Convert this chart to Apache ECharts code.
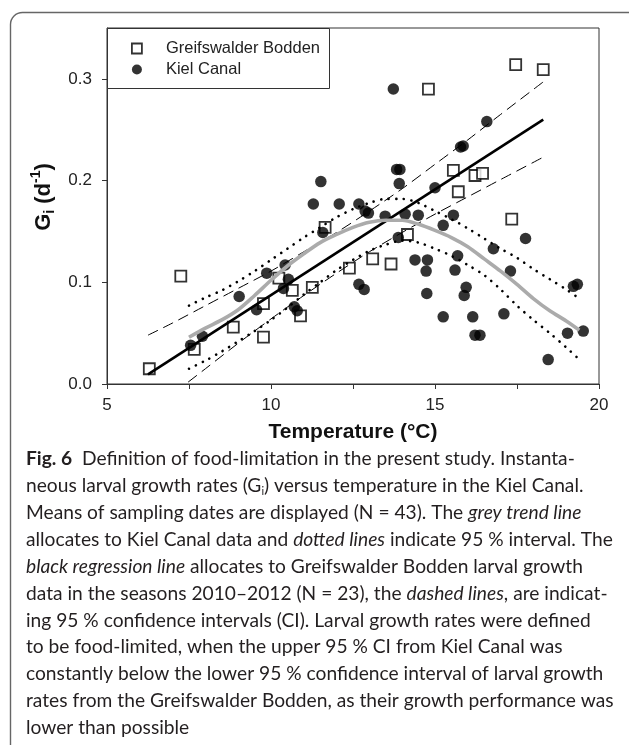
<!DOCTYPE html>
<html>
<head>
<meta charset="utf-8">
<script src="https://cdn.jsdelivr.net/npm/echarts@6/dist/echarts.min.js"></script>
<style>
html,body{margin:0;padding:0;background:#fff;}
#chart{width:629px;height:745px;}
</style>
</head>
<body>
<div id="chart"></div>
<script>
// ---- Data ----
const xTickValues = [5, 10, 15, 20];
const yTickValues = [0, 0.1, 0.2, 0.3];

// Greifswalder Bodden (open squares)
const gbTemp   = [6.29, 7.25, 7.66, 8.85, 9.77, 9.77, 10.24, 10.65, 10.90, 11.26, 11.65, 12.39, 13.10, 13.66, 14.16, 14.80, 15.56, 15.71, 16.22, 16.45, 17.34, 17.46, 18.30];
const gbGrowth = [0.015, 0.106, 0.034, 0.056, 0.079, 0.046, 0.104, 0.092, 0.067, 0.095, 0.154, 0.114, 0.123, 0.118, 0.147, 0.290, 0.210, 0.189, 0.205, 0.207, 0.162, 0.314, 0.309];

// Kiel Canal (filled circles)
const kcTemp   = [7.55, 7.91, 9.03, 9.56, 9.87, 10.43, 10.53, 10.38, 10.71, 10.80, 11.52, 11.29, 11.58, 12.08, 12.68, 12.87, 12.97, 12.68, 12.84, 13.48, 13.73, 13.83, 13.93, 13.91, 13.88, 14.09, 14.49, 14.39, 14.77, 14.73, 14.75, 15.00, 15.25, 15.25, 15.56, 15.61, 15.69, 15.78, 15.86, 15.95, 15.89, 16.15, 16.22, 16.37, 16.58, 16.78, 17.10, 17.30, 17.76, 18.45, 19.04, 19.22, 19.34, 19.52];
const kcGrowth = [0.038, 0.047, 0.086, 0.073, 0.109, 0.117, 0.103, 0.094, 0.076, 0.072, 0.199, 0.177, 0.149, 0.177, 0.177, 0.170, 0.168, 0.098, 0.093, 0.165, 0.290, 0.211, 0.211, 0.197, 0.144, 0.167, 0.166, 0.122, 0.122, 0.111, 0.089, 0.193, 0.156, 0.066, 0.166, 0.112, 0.126, 0.233, 0.234, 0.095, 0.087, 0.066, 0.048, 0.048, 0.258, 0.133, 0.069, 0.111, 0.143, 0.024, 0.050, 0.096, 0.098, 0.052];

// Greifswalder Bodden regression line and 95 % CI (dashed)
const gbRegTemp   = [6.25, 18.3];
const gbRegGrowth = [0.0094, 0.260];
const gbCiTemp    = [6.25, 7, 8, 9, 10, 11, 12, 13, 14, 15, 16, 17, 18.3];
const gbCiUpper   = [0.048, 0.060, 0.077, 0.094, 0.111, 0.130, 0.149, 0.170, 0.192, 0.216, 0.240, 0.265, 0.297];
const gbCiLower   = [-0.029, -0.010, 0.015, 0.040, 0.064, 0.087, 0.109, 0.130, 0.149, 0.167, 0.184, 0.201, 0.223];

// Kiel Canal grey trend line and 95 % interval (dotted)
const kcTrendTemp = [7.5, 8.0, 8.5, 9.0, 9.5, 10.0, 10.5, 11.0, 11.5, 12.0, 12.5, 13.0, 13.5, 14.0, 14.5, 15.0, 15.5, 16.0, 16.5, 17.0, 17.5, 18.0, 18.5, 19.0, 19.4];
const kcTrend     = [0.046, 0.055, 0.063, 0.073, 0.087, 0.102, 0.116, 0.128, 0.139, 0.147, 0.154, 0.159, 0.161, 0.161, 0.157, 0.151, 0.144, 0.135, 0.123, 0.111, 0.098, 0.084, 0.072, 0.062, 0.053];
const kcUpper     = [0.077, 0.085, 0.092, 0.101, 0.111, 0.122, 0.133, 0.144, 0.154, 0.164, 0.172, 0.178, 0.182, 0.182, 0.178, 0.170, 0.162, 0.153, 0.143, 0.133, 0.124, 0.113, 0.103, 0.093, 0.084];
const kcLower     = [0.015, 0.023, 0.032, 0.042, 0.052, 0.063, 0.075, 0.088, 0.100, 0.112, 0.122, 0.131, 0.137, 0.141, 0.139, 0.133, 0.126, 0.117, 0.107, 0.093, 0.077, 0.063, 0.050, 0.036, 0.024];

const captionLines = [
  '{b|Fig. 6}  Definition of food-limitation in the present study. Instanta-',
  'neous larval growth rates (G{s|i}) versus temperature in the Kiel Canal.',
  'Means of sampling dates are displayed (N = 43). The {i|grey trend line}',
  'allocates to Kiel Canal data and {i|dotted lines} indicate 95 % interval. The',
  '{i|black regression line} allocates to Greifswalder Bodden larval growth',
  'data in the seasons 2010\u20132012 (N = 23), the {i|dashed lines}, are indicat-',
  'ing 95 % confidence intervals (CI). Larval growth rates were defined',
  'to be food-limited, when the upper 95 % CI from Kiel Canal was',
  'constantly below the lower 95 % confidence interval of larval growth',
  'rates from the Greifswalder Bodden, as their growth performance was',
  'lower than possible'
];

const zip = (xs, ys) => xs.map((x, i) => [x, ys[i]]);

const FONT = 'Liberation Sans, Arial, sans-serif';
const CAPFONT = 'Lato, sans-serif';
const CAPSIZE = 19.2;

const chart = echarts.init(document.getElementById('chart'), null, {renderer: 'canvas'});

const graphics = [
  {type: 'rect', shape: {x: 10.5, y: 12.5, width: 660, height: 800, r: 12}, style: {fill: 'none', stroke: '#666', lineWidth: 1.4}, z: 0, silent: true},
  {type: 'rect', shape: {x: 107.5, y: 28.5, width: 222, height: 60}, style: {fill: '#fff', stroke: '#333', lineWidth: 1}, z: 1, silent: true}
];
captionLines.forEach((t, i) => {
  graphics.push({
    type: 'text', x: 26, y: 459 + i * 26.9, z: 10, silent: true,
    style: {
      text: t, fontFamily: CAPFONT, fontSize: CAPSIZE, fill: '#231f20', verticalAlign: 'middle', lineHeight: 22,
      rich: {
        b: {fontFamily: CAPFONT, fontSize: CAPSIZE, fontWeight: 'bold', fill: '#231f20', lineHeight: 22},
        i: {fontFamily: CAPFONT, fontSize: CAPSIZE, fontStyle: 'italic', fill: '#231f20', lineHeight: 22},
        s: {fontFamily: CAPFONT, fontSize: 11, fill: '#231f20', lineHeight: 10, verticalAlign: 'bottom'}
      }
    }
  });
});

const option = {
  animation: false,
  backgroundColor: '#fff',
  grid: {left: 107, top: 28, width: 492, height: 356, show: true, borderColor: '#333', borderWidth: 1, containLabel: false},
  legend: {
    data: [
      {name: 'Greifswalder Bodden', icon: 'rect', itemStyle: {color: '#fff', borderColor: '#000', borderWidth: 1.8}},
      {name: 'Kiel Canal', icon: 'circle'}
    ],
    orient: 'vertical', left: 131, top: 40, padding: 0,
    itemWidth: 10, itemHeight: 10, itemGap: 4,
    textStyle: {fontFamily: FONT, fontSize: 16.5, color: '#222', lineHeight: 14, padding: [0, 0, 0, 19]},
    z: 5
  },
  xAxis: {
    type: 'value', min: 5, max: 20, interval: 5,
    name: 'Temperature (\u00B0C)', nameLocation: 'middle', nameGap: 38,
    nameTextStyle: {fontFamily: FONT, fontSize: 21, fontWeight: 'bold', color: '#111'},
    axisLine: {show: true, lineStyle: {color: '#333', width: 1}},
    axisTick: {show: true, inside: false, length: 5, lineStyle: {color: '#333'}},
    minorTick: {show: true, splitNumber: 2, length: 5, lineStyle: {color: '#333'}},
    axisLabel: {fontFamily: FONT, fontSize: 17, color: '#222', margin: 13},
    splitLine: {show: false}
  },
  yAxis: {
    type: 'value', min: 0, max: 0.35, interval: 0.1,
    name: '{g|G}{s|i}{g| (d}{p|-1}{g|)}', nameLocation: 'middle', nameGap: 47,
    nameTextStyle: {
      padding: [0, 0, 0, 18],
      rich: {
        g: {fontFamily: FONT, fontSize: 22, fontWeight: 'bold', color: '#111', lineHeight: 28, verticalAlign: 'middle'},
        s: {fontFamily: FONT, fontSize: 14, fontWeight: 'bold', color: '#111', lineHeight: 14, verticalAlign: 'bottom'},
        p: {fontFamily: FONT, fontSize: 14, fontWeight: 'bold', color: '#111', lineHeight: 14, verticalAlign: 'top'}
      }
    },
    axisLine: {show: true, lineStyle: {color: '#333', width: 1}},
    axisTick: {show: true, inside: false, length: 5, lineStyle: {color: '#333'}, customValues: yTickValues},
    axisLabel: {fontFamily: FONT, fontSize: 17, color: '#222', margin: 15, customValues: yTickValues,
      formatter: v => v.toFixed(1)},
    splitLine: {show: false}
  },
  graphic: graphics,
  series: [
    {name: 'Greifswalder Bodden', type: 'scatter', data: zip(gbTemp, gbGrowth), symbol: 'rect', symbolSize: 11,
      itemStyle: {color: '#fff', borderColor: '#000', borderWidth: 1.8}, z: 2},
    {name: 'Kiel Canal', type: 'scatter', data: zip(kcTemp, kcGrowth), symbol: 'circle', symbolSize: 11.5,
      itemStyle: {color: '#000'}, z: 3},
    {name: 'GB regression', type: 'line', data: zip(gbRegTemp, gbRegGrowth), showSymbol: false, symbol: 'none',
      lineStyle: {color: '#000', width: 2.6}, z: 4, silent: true, clip: true},
    {name: 'GB CI upper', type: 'line', data: zip(gbCiTemp, gbCiUpper), smooth: 0.3, symbol: 'none',
      lineStyle: {color: '#000', width: 1, type: [11, 6]}, z: 4, silent: true, clip: true},
    {name: 'GB CI lower', type: 'line', data: zip(gbCiTemp, gbCiLower), smooth: 0.3, symbol: 'none',
      lineStyle: {color: '#000', width: 1, type: [11, 6]}, z: 4, silent: true, clip: true},
    {name: 'KC upper', type: 'line', data: zip(kcTrendTemp, kcUpper), smooth: 0.3, symbol: 'none',
      lineStyle: {color: '#000', width: 2.6, type: [0.1, 7.5], cap: 'round'}, z: 4, silent: true, clip: true},
    {name: 'KC lower', type: 'line', data: zip(kcTrendTemp, kcLower), smooth: 0.3, symbol: 'none',
      lineStyle: {color: '#000', width: 2.6, type: [0.1, 7.5], cap: 'round'}, z: 4, silent: true, clip: true},
    {name: 'KC trend', type: 'line', data: zip(kcTrendTemp, kcTrend), smooth: 0.3, symbol: 'none',
      lineStyle: {color: '#ababab', width: 3.6}, z: 5, silent: true, clip: true}
  ]
};
chart.setOption(option);
</script>
</body>
</html>
